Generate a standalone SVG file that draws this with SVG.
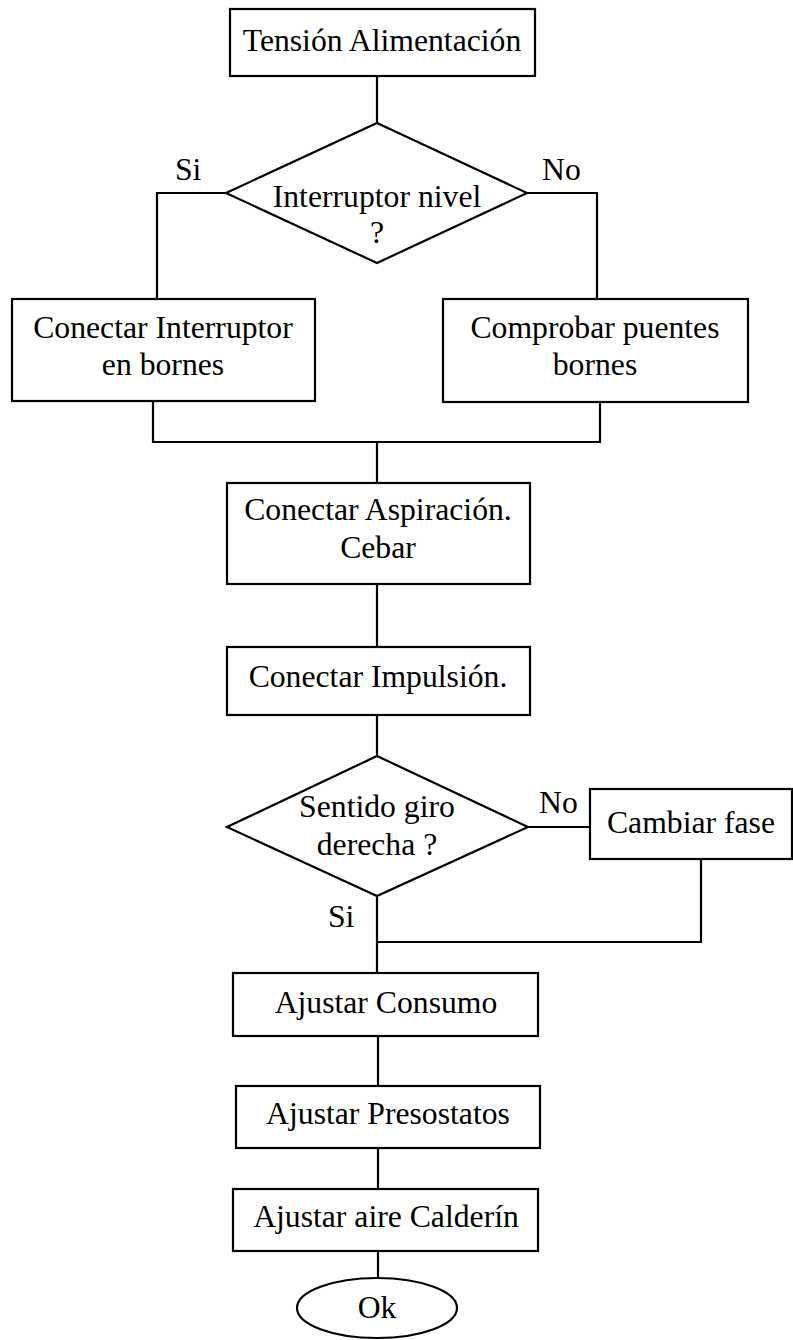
<svg xmlns="http://www.w3.org/2000/svg" width="793" height="1340" viewBox="0 0 793 1340">
<style>
.s{fill:#fff;stroke:#000;stroke-width:2.2}
.c{fill:none;stroke:#000;stroke-width:2.2}
text{font-family:"Liberation Serif","Times New Roman",serif;font-size:31.7px;fill:#000}
.m{text-anchor:middle}
</style>
<rect width="793" height="1340" fill="#fff"/>
<g id="connectors">
<path class="c" d="M377,76 V123"/>
<path class="c" d="M226,193 H157 V299"/>
<path class="c" d="M527,193 H597 V299"/>
<path class="c" d="M153,401 V442 H600 V402"/>
<path class="c" d="M377,442 V483"/>
<path class="c" d="M377,584 V647"/>
<path class="c" d="M377,715 V756"/>
<path class="c" d="M527,827 H590"/>
<path class="c" d="M377,896 V973"/>
<path class="c" d="M701,859 V942 H377"/>
<path class="c" d="M378,1036 V1086"/>
<path class="c" d="M378,1148 V1189"/>
<path class="c" d="M378,1251 V1278"/>
<text x="175" y="180">Si</text>
<text x="542" y="180">No</text>
<text x="539" y="813">No</text>
<text x="328" y="927">Si</text>
</g>
<g id="n1"><rect class="s" x="230" y="9" width="305" height="67"/><text class="m" x="382" y="51">Tensión Alimentación</text></g>
<g id="n2"><polygon class="s" points="377,123 527,193 377,263 226,193"/><text class="m" x="377" y="207">Interruptor nivel</text><text class="m" x="377" y="243">?</text></g>
<g id="n3"><rect class="s" x="12" y="299" width="303" height="102"/><text class="m" x="163" y="338">Conectar Interruptor</text><text class="m" x="163" y="375">en bornes</text></g>
<g id="n4"><rect class="s" x="443" y="299" width="305" height="103"/><text class="m" x="595" y="338">Comprobar puentes</text><text class="m" x="595" y="375">bornes</text></g>
<g id="n5"><rect class="s" x="227" y="483" width="303" height="101"/><text class="m" x="378" y="520">Conectar Aspiración.</text><text class="m" x="378" y="558">Cebar</text></g>
<g id="n6"><rect class="s" x="227" y="647" width="303" height="68"/><text class="m" x="378" y="687">Conectar Impulsión.</text></g>
<g id="n7"><polygon class="s" points="377,756 528,827 377,896 227,827"/><text class="m" x="377" y="817">Sentido giro</text><text class="m" x="377" y="855">derecha ?</text></g>
<g id="n8"><rect class="s" x="590" y="789" width="202" height="70"/><text class="m" x="691" y="833">Cambiar fase</text></g>
<g id="n9"><rect class="s" x="233" y="973" width="305" height="63"/><text class="m" x="386" y="1013">Ajustar Consumo</text></g>
<g id="n10"><rect class="s" x="236" y="1086" width="304" height="62"/><text class="m" x="388" y="1124">Ajustar Presostatos</text></g>
<g id="n11"><rect class="s" x="233" y="1189" width="305" height="62"/><text class="m" x="386" y="1227">Ajustar aire Calderín</text></g>
<g id="n12"><ellipse class="s" cx="377" cy="1308" rx="80" ry="30"/><text class="m" x="377" y="1318">Ok</text></g>
</svg>
